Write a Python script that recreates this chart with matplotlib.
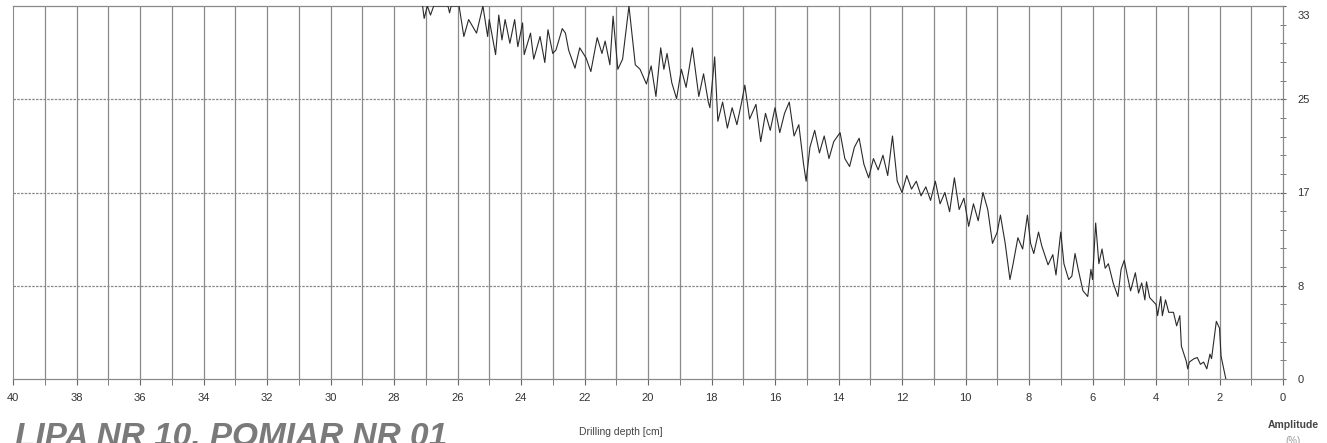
import numpy as np
import matplotlib.pyplot as plt
from matplotlib.ticker import MultipleLocator, FixedLocator
import matplotlib.transforms as mtransforms

plt.rcParams['font.family'] = ['Liberation Sans', 'DejaVu Sans']

# drilling depth [cm] and resistance amplitude [%]
depth = [27.10, 27.05, 26.95, 26.85, 26.75, 26.30, 26.25, 26.20, 25.95, 25.80,
         25.65, 25.40, 25.20, 25.05, 25.00, 24.80, 24.70, 24.60, 24.50, 24.35,
         24.20, 24.10, 23.95, 23.90, 23.70, 23.60, 23.40, 23.25, 23.15, 23.00,
         22.90, 22.70, 22.60, 22.50, 22.30, 22.15, 21.95, 21.80, 21.60, 21.45,
         21.35, 21.20, 21.10, 20.95, 20.80, 20.60, 20.40, 20.25, 20.05, 19.90,
         19.75, 19.60, 19.50, 19.40, 19.25, 19.10, 18.95, 18.80, 18.60, 18.40,
         18.25, 18.10, 18.05, 17.90, 17.80, 17.65, 17.50, 17.35, 17.20, 17.05,
         16.95, 16.80, 16.60, 16.45, 16.30, 16.15, 16.00, 15.85, 15.70, 15.55,
         15.40, 15.25, 15.10, 15.02, 14.90, 14.75, 14.60, 14.45, 14.30, 14.15,
         13.95, 13.80, 13.65, 13.50, 13.35, 13.20, 13.05, 12.90, 12.75, 12.60,
         12.45, 12.30, 12.15, 12.00, 11.85, 11.70, 11.55, 11.40, 11.25, 11.10,
         10.95, 10.80, 10.65, 10.50, 10.35, 10.20, 10.05, 9.90, 9.75, 9.60,
         9.45, 9.30, 9.15, 9.00, 8.90, 8.75, 8.60, 8.50, 8.35, 8.20,
         8.05, 7.95, 7.85, 7.70, 7.60, 7.40, 7.25, 7.15, 7.00, 6.90,
         6.75, 6.65, 6.55, 6.45, 6.30, 6.15, 6.05, 6.00, 5.90, 5.80,
         5.70, 5.60, 5.50, 5.35, 5.20, 5.10, 5.00, 4.90, 4.80, 4.65,
         4.55, 4.45, 4.35, 4.30, 4.20, 4.00, 3.95, 3.85, 3.80, 3.70,
         3.60, 3.45, 3.35, 3.25, 3.20, 3.05, 3.00, 2.95, 2.80, 2.70,
         2.60, 2.50, 2.40, 2.30, 2.25, 2.10, 2.00, 1.95, 1.80]
amplitude = [33.0, 31.9, 33.0, 32.2, 33.0, 33.0, 32.4, 33.0, 33.0, 30.3,
             31.8, 30.6, 33.0, 30.3, 31.8, 28.7, 32.2, 30.0, 31.8, 29.7,
             31.8, 29.4, 31.5, 28.7, 30.6, 28.3, 30.3, 28.0, 30.9, 28.8,
             29.1, 31.0, 30.6, 29.1, 27.5, 29.3, 28.4, 27.2, 30.2, 28.8,
             29.9, 27.8, 32.1, 27.4, 28.3, 33.0, 27.8, 27.4, 26.1, 27.7,
             25.0, 29.3, 27.4, 28.8, 26.2, 24.8, 27.4, 25.8, 29.3, 25.0,
             27.0, 24.5, 24.0, 28.5, 22.8, 24.5, 22.2, 24.0, 22.5, 24.5,
             26.0, 23.0, 24.3, 21.0, 23.5, 22.0, 24.0, 21.8, 23.5, 24.5,
             21.5, 22.5, 19.0, 17.5, 20.5, 22.0, 20.0, 21.5, 19.5, 21.0,
             21.8, 19.5, 18.8, 20.5, 21.3, 19.0, 17.8, 19.5, 18.5, 19.8,
             18.0, 21.5, 17.5, 16.5, 18.0, 16.8, 17.5, 16.2, 17.0, 15.8,
             17.5, 15.5, 16.5, 14.8, 17.8, 15.0, 16.0, 13.5, 15.5, 14.0,
             16.5, 15.0, 12.0, 13.0, 14.5, 12.0, 8.8, 10.2, 12.5, 11.5,
             14.5, 12.0, 11.1, 13.0, 11.8, 10.1, 11.0, 9.2, 13.0, 10.2,
             8.8, 9.1, 11.1, 9.7, 7.8, 7.3, 9.7, 8.8, 13.8, 10.2,
             11.5, 9.8, 10.2, 8.5, 7.3, 9.7, 10.5, 9.1, 7.8, 9.4,
             7.6, 8.5, 7.0, 8.6, 7.2, 6.6, 5.6, 7.3, 5.6, 7.0,
             5.9, 5.9, 4.7, 5.6, 2.9, 1.6, 0.9, 1.5, 1.8, 1.9,
             1.3, 1.5, 0.9, 2.2, 1.8, 5.1, 4.5, 2.0, 0.0]

amp_ticks = [0, 8.25, 16.5, 24.75, 33]
amp_labels = ['0', '8', '17', '25', '33']

fig = plt.figure(figsize=(13.27, 4.43), dpi=100)
ax = fig.add_axes([13/1327, 64/443, 1270/1327, 373/443])

grid = '#8a8a8a'
for d in range(1, 40):
    ax.axvline(d, color=grid, lw=0.9, zorder=1)
for a in amp_ticks[1:-1]:
    ax.axhline(a, color=grid, lw=0.9, ls=(0, (2, 1)), zorder=1)

ax.plot(depth, np.minimum(amplitude, 33), color='#2a2a2a', lw=0.8, zorder=3)

ax.set_xlim(40, 0)
ax.set_ylim(0, 33)

ax.spines['left'].set_color(grid)
for side in ['top', 'bottom', 'right']:
    ax.spines[side].set_color(grid)
    ax.spines[side].set_linestyle((0, (2, 1)))
    ax.spines[side].set_linewidth(0.9)

ax.xaxis.set_major_locator(MultipleLocator(2))
ax.xaxis.set_minor_locator(MultipleLocator(1))
ax.tick_params(axis='x', which='both', direction='out', length=4, colors='#666666',
               labelcolor='#333333', labelsize=8, pad=6)

ax.yaxis.tick_right()
ax.yaxis.set_major_locator(FixedLocator(amp_ticks))
ax.set_yticklabels(amp_labels)
ax.yaxis.set_minor_locator(FixedLocator(np.arange(0, 33.01, 1.65)))
ax.tick_params(axis='y', which='both', direction='inout', length=5, colors='#666666',
               labelcolor='#333333', labelsize=8, pad=8)
# top label sits just under the frame
top_lbl = ax.get_yticklabels()[-1]
top_lbl.set_transform(top_lbl.get_transform() +
                      mtransforms.ScaledTranslation(0, -9/100, fig.dpi_scale_trans))

fig.text(621/1327, 11/443, 'Drilling depth [cm]', ha='center', va='center',
         fontsize=7.5, color='#444444')
fig.text(1293/1327, 18/443, 'Amplitude', ha='center', va='center',
         fontsize=7.5, color='#444444', fontweight='bold')
fig.text(1293/1327, 2/443, '(%)', ha='center', va='center',
         fontsize=7, color='#999999')
fig.text(15/1327, -3/443, 'LIPA NR 10, POMIAR NR 01', ha='left', va='baseline',
         fontsize=24, fontweight='bold', fontstyle='italic', color='#7a7a7a')

plt.savefig('out.png', dpi=100)
